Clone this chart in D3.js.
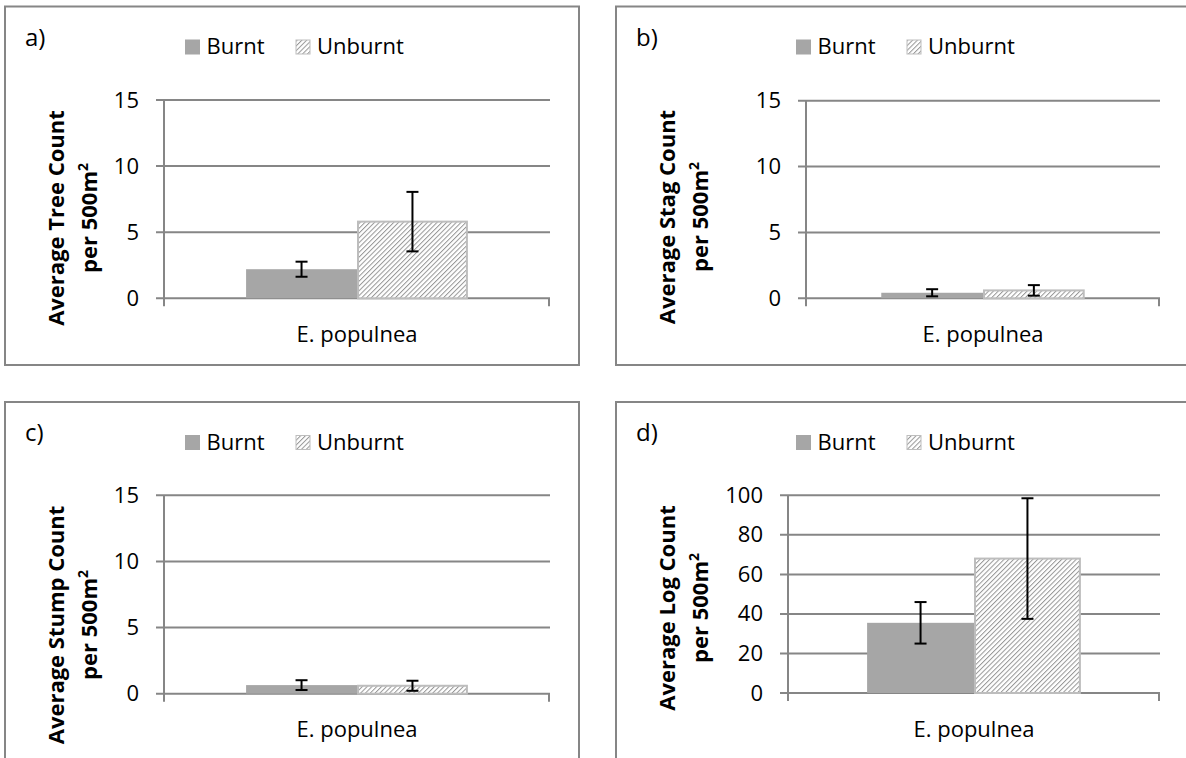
<!DOCTYPE html>
<html>
<head>
<meta charset="utf-8">
<script src="https://cdn.jsdelivr.net/npm/d3@7"></script>
<style>
  body { margin: 0; background: #fff; }
  svg { display: block; }
  text { font-family: "Open Sans", sans-serif; fill: #000; }
</style>
</head>
<body>
<svg id="chart" width="1186" height="758"></svg>
<script>
// ---- data ----
const panelLabels = ["a)", "b)", "c)", "d)"];
const categories = ["E. populnea"];
const seriesNames = ["Burnt", "Unburnt"];
const titleLine1 = ["Average Tree Count", "Average Stag Count", "Average Stump Count", "Average Log Count"];
const titleLine2 = "per 500m";
const burntMean = [2.2, 0.42, 0.65, 35.5];
const burntErr = [0.57, 0.27, 0.37, 10.5];
const unburntMean = [5.8, 0.6, 0.6, 68];
const unburntErr = [2.25, 0.4, 0.38, 30.5];
const yTicksCount = [0, 5, 10, 15];
const yTicksLog = [0, 20, 40, 60, 80, 100];
const yTicks = [yTicksCount, yTicksCount, yTicksCount, yTicksLog];

// ---- layout of the four panels ----
const layout = [
  { fx: 5,   fy: 6.5, fw: 574, fh: 358.5, px0: 164, px1: 550,  py0: 100,   py1: 298.3, ty: 218 },
  { fx: 616, fy: 6.5, fw: 600, fh: 358.5, px0: 806, px1: 1160, py0: 100.7, py1: 298.3, ty: 217 },
  { fx: 5,   fy: 402, fw: 574, fh: 420,   px0: 164, px1: 550,  py0: 495.3, py1: 693.7, ty: 625 },
  { fx: 616, fy: 402, fw: 600, fh: 420,   px0: 788, px1: 1160, py0: 495.3, py1: 693,   ty: 608 }
];

const gridColor = "#868686";
const burntFill = "#a6a6a6";
const hatchStroke = "#969696";
const unburntBorder = "#bdbdbd";

const svg = d3.select("#chart");
svg.append("rect").attr("width", 1186).attr("height", 758).attr("fill", "#fff");

// diagonal hatch for the Unburnt series
const defs = svg.append("defs");
const pat = defs.append("pattern")
  .attr("id", "hatch")
  .attr("patternUnits", "userSpaceOnUse")
  .attr("width", 3.4).attr("height", 10)
  .attr("patternTransform", "rotate(45)");
pat.append("rect").attr("width", 3.4).attr("height", 10).attr("fill", "#fff");
pat.append("line").attr("x1", 0.5).attr("y1", 0).attr("x2", 0.5).attr("y2", 10)
  .attr("stroke", hatchStroke).attr("stroke-width", 1);

const fills = { Burnt: burntFill, Unburnt: "url(#hatch)" };

layout.forEach((L, i) => {
  const g = svg.append("g");

  // chart frame
  g.append("rect")
    .attr("x", L.fx).attr("y", L.fy).attr("width", L.fw).attr("height", L.fh)
    .attr("fill", "none").attr("stroke", gridColor).attr("stroke-width", 2);

  // panel letter
  g.append("text").attr("x", L.fx + 20).attr("y", L.fy + 39)
    .style("font-size", "24px").text(panelLabels[i]);

  // legend
  const legX = [L.fx + 180, L.fx + 290.5];
  seriesNames.forEach((s, k) => {
    g.append("rect")
      .attr("x", legX[k] + 0.5).attr("y", L.fy + 33.5).attr("width", 14).attr("height", 14)
      .attr("fill", fills[s])
      .attr("stroke", k === 0 ? burntFill : unburntBorder).attr("stroke-width", 1);
    g.append("text").attr("x", legX[k] + 21.5).attr("y", L.fy + 47.5)
      .style("font-size", "22px").text(s);
  });

  // scales
  const ticks = yTicks[i];
  const y = d3.scaleLinear().domain([0, d3.max(ticks)]).range([L.py1, L.py0]);
  const x0 = d3.scaleBand().domain(categories).range([L.px0, L.px1])
    .paddingInner(0).paddingOuter(0.37);
  const x1 = d3.scaleBand().domain(seriesNames).range([0, x0.bandwidth()]).padding(0);

  // horizontal gridlines (with short stubs left of the axis)
  g.append("g").selectAll("line").data(ticks).join("line")
    .attr("x1", L.px0 - 8).attr("x2", L.px1)
    .attr("y1", d => y(d)).attr("y2", d => y(d))
    .attr("stroke", gridColor).attr("stroke-width", 2);

  // y axis labels
  const yAxis = g.append("g").attr("transform", `translate(${L.px0},0)`)
    .call(d3.axisLeft(y).tickValues(ticks).tickSize(0).tickPadding(25).tickFormat(d3.format("d")));
  yAxis.select(".domain").remove();
  yAxis.selectAll("text").style("font-size", "22px").style("font-family", "'Open Sans', sans-serif").attr("fill", "#000");

  // vertical axis line and category axis tick marks
  g.append("line").attr("x1", L.px0).attr("x2", L.px0).attr("y1", L.py0).attr("y2", L.py1 + 8)
    .attr("stroke", gridColor).attr("stroke-width", 2);
  g.append("line").attr("x1", L.px1 - 1).attr("x2", L.px1 - 1).attr("y1", L.py1).attr("y2", L.py1 + 8)
    .attr("stroke", gridColor).attr("stroke-width", 2);

  // category axis label
  const xAxis = g.append("g").attr("transform", `translate(0,${L.py1})`)
    .call(d3.axisBottom(x0).tickSize(0).tickPadding(28));
  xAxis.select(".domain").remove();
  xAxis.selectAll("text").style("font-size", "22px").style("font-family", "'Open Sans', sans-serif").attr("fill", "#000");

  // bars
  const rows = [
    { s: "Burnt", v: burntMean[i], e: burntErr[i] },
    { s: "Unburnt", v: unburntMean[i], e: unburntErr[i] }
  ];
  const bx = s => x0(categories[0]) + x1(s);
  g.append("g").selectAll("rect").data(rows).join("rect")
    .attr("x", d => bx(d.s) + (d.s === "Unburnt" ? 1 : 0))
    .attr("width", d => x1.bandwidth() - (d.s === "Unburnt" ? 2 : 0))
    .attr("y", d => y(d.v))
    .attr("height", d => y(0) - y(d.v))
    .attr("fill", d => fills[d.s])
    .attr("stroke", d => d.s === "Unburnt" ? unburntBorder : "none")
    .attr("stroke-width", 2);

  // error bars
  const eb = g.append("g").attr("stroke", "#000").attr("stroke-width", 2);
  rows.forEach(d => {
    const cx = bx(d.s) + x1.bandwidth() / 2;
    eb.append("line").attr("x1", cx).attr("x2", cx).attr("y1", y(d.v + d.e)).attr("y2", y(d.v - d.e));
    eb.append("line").attr("x1", cx - 6).attr("x2", cx + 6).attr("y1", y(d.v + d.e)).attr("y2", y(d.v + d.e));
    eb.append("line").attr("x1", cx - 6).attr("x2", cx + 6).attr("y1", y(d.v - d.e)).attr("y2", y(d.v - d.e));
  });

  // y axis title (two lines, rotated)
  g.append("text")
    .attr("transform", `translate(${L.fx + 59},${L.ty}) rotate(-90)`)
    .attr("text-anchor", "middle").style("font-size", "22px").style("font-weight", "bold")
    .text(titleLine1[i]);
  const t2 = g.append("text")
    .attr("transform", `translate(${L.fx + 92},${L.ty}) rotate(-90)`)
    .attr("text-anchor", "middle").style("font-size", "22px").style("font-weight", "bold");
  t2.append("tspan").text(titleLine2);
  t2.append("tspan").attr("dy", -9).style("font-size", "14px").text("2");
});
</script>
</body>
</html>
